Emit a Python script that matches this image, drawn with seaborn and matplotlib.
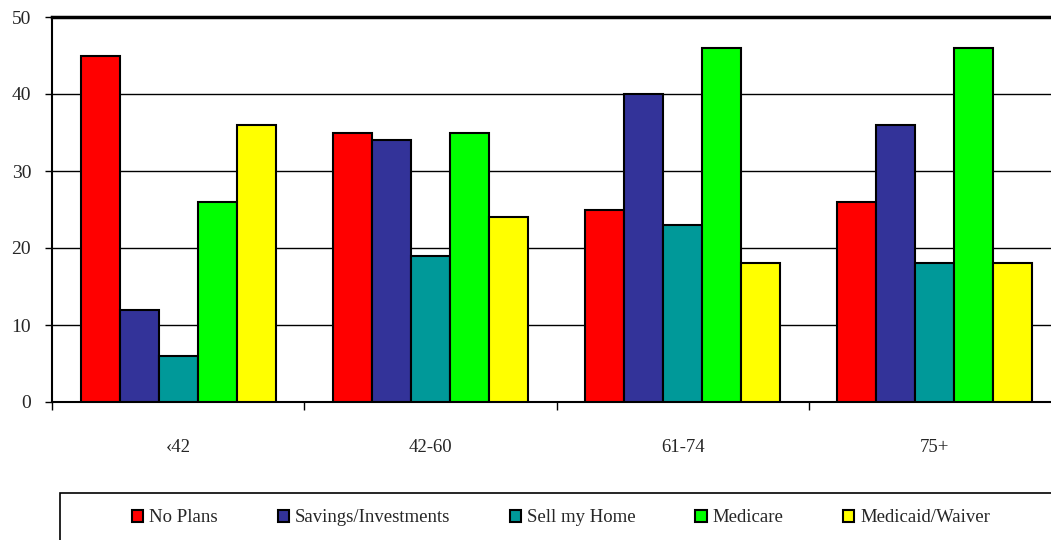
import matplotlib
matplotlib.use("Agg")
import matplotlib.pyplot as plt
from matplotlib.patches import Rectangle
import seaborn as sns
import pandas as pd

# Age groups and planned funding source shares
age_groups = ["\u203942", "42-60", "61-74", "75+"]
series = ["No Plans", "Savings/Investments", "Sell my Home", "Medicare", "Medicaid/Waiver"]
no_plans = [45, 35, 25, 26]
savings = [12, 34, 40, 36]
sell_home = [6, 19, 23, 18]
medicare = [26, 35, 46, 46]
medicaid = [36, 24, 18, 18]
colors = ["#FF0000", "#333399", "#009999", "#00FF00", "#FFFF00"]

values = [no_plans, savings, sell_home, medicare, medicaid]
df = pd.DataFrame(
    [(g, s, v) for s, vals in zip(series, values) for g, v in zip(age_groups, vals)],
    columns=["Age", "Plan", "Percent"],
)

sns.set_style("white")
plt.rcParams["font.family"] = ["Liberation Serif", "DejaVu Serif"]

W, H = 1051, 540
fig = plt.figure(figsize=(W / 100, H / 100), dpi=100)
ax = fig.add_axes([52 / W, (H - 402) / H, 1009 / W, 385 / H])

sns.barplot(
    data=df, x="Age", y="Percent", hue="Plan", hue_order=series, order=age_groups,
    palette=colors, width=0.774, edgecolor="black", linewidth=1.5, saturation=1,
    ax=ax, legend=True, zorder=3,
)

ax.set_xlim(-0.5, 3.5)
ax.set_ylim(0, 50)
ax.set_yticks(range(0, 51, 10))
ax.yaxis.grid(True, color="black", linewidth=1.0, zorder=0)
ax.set_axisbelow(True)
ax.set_xlabel("")
ax.set_ylabel("")

# Category labels centred, tick marks on group boundaries
ax.set_xticks(range(len(age_groups)))
ax.set_xticklabels(age_groups)
ax.tick_params(axis="x", which="major", bottom=True, length=0, pad=27, labelsize=13.5)
ax.set_xticks([-0.5, 0.5, 1.5, 2.5], minor=True)
ax.tick_params(axis="x", which="minor", bottom=True, length=6, width=1, color="black",
               direction="out")
ax.tick_params(axis="y", left=True, length=5, width=1, color="black", direction="out",
               labelsize=14, pad=10)

for side in ["left", "bottom"]:
    ax.spines[side].set_color("black")
    ax.spines[side].set_linewidth(1.5)
ax.spines["top"].set_color("black")
ax.spines["top"].set_linewidth(2.5)
ax.spines["right"].set_visible(False)

handles, labels = ax.get_legend_handles_labels()
ax.get_legend().remove()

# Framed legend strip along the bottom
fig.patches.append(Rectangle((60 / W, -10 / H), 1010 / W, 57 / H, transform=fig.transFigure,
                             facecolor="white", edgecolor="black", linewidth=1.2))
leg = fig.legend(handles, labels, ncol=5, loc="center", bbox_to_anchor=(561 / W, (H - 518) / H),
                 frameon=False, fontsize=13.5, handlelength=0.6, handleheight=0.6,
                 handletextpad=0.3, columnspacing=3.2)
for h in leg.legend_handles:
    h.set_linewidth(1.5)

fig.savefig("out.png", dpi=100)
